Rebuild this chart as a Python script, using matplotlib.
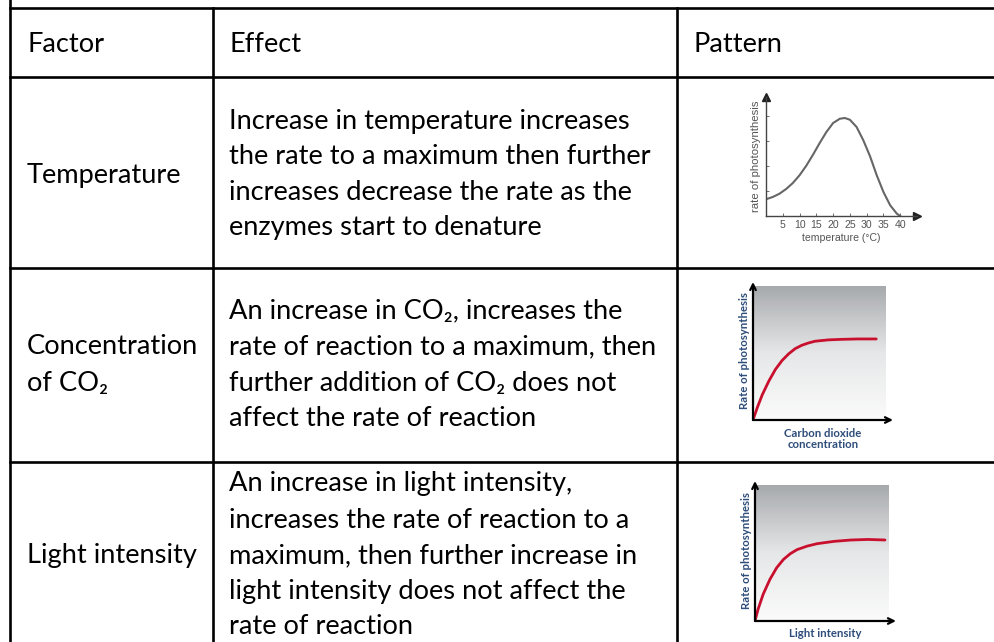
import numpy as np
import matplotlib.pyplot as plt
from matplotlib.colors import LinearSegmentedColormap

plt.rcParams['font.family'] = ['Lato', 'DejaVu Sans']

headers = ['Factor', 'Effect', 'Pattern']
factors = [['Temperature'], ['Concentration', 'of CO₂'], ['Light intensity']]
effects = [
    ['Increase in temperature increases',
     'the rate to a maximum then further',
     'increases decrease the rate as the',
     'enzymes start to denature'],
    ['An increase in CO₂, increases the',
     'rate of reaction to a maximum, then',
     'further addition of CO₂ does not',
     'affect the rate of reaction'],
    ['An increase in light intensity,',
     'increases the rate of reaction to a',
     'maximum, then further increase in',
     'light intensity does not affect the',
     'rate of reaction'],
]

# temperature curve
temp = [0, 2, 4, 6, 8, 10, 12, 14, 16, 18, 20, 22, 23.5, 25, 27, 29, 31, 33, 35, 37, 39, 40]
temp_rate = [0.67, 0.76, 0.89, 1.08, 1.32, 1.63, 2.01, 2.45, 2.92, 3.36, 3.72, 3.89,
             3.92, 3.85, 3.56, 3.03, 2.39, 1.63, 0.96, 0.43, 0.09, 0.0]
temp_ticks = [5, 10, 15, 20, 25, 30, 35, 40]

# CO2 curve
co2 = [0, 0.33, 0.7, 1.2, 1.7, 2.2, 2.7, 3.2, 3.7, 4.2, 4.7, 5.7, 6.7, 7.95, 9.33]
co2_rate = [0, 0.94, 1.88, 2.91, 3.78, 4.44, 4.94, 5.33, 5.58, 5.75, 5.88, 5.98, 6.02,
            6.05, 6.05]

# light curve
light = [0, 0.23, 0.61, 1.12, 1.63, 2.14, 2.65, 3.16, 3.92, 4.68, 5.95, 7.23, 8.5, 9.77]
light_rate = [0, 0.86, 1.96, 3.06, 3.92, 4.53, 4.95, 5.25, 5.51, 5.69, 5.86, 5.96, 6.0,
              5.96]

W, H = 995, 642
fig = plt.figure(figsize=(W / 100, H / 100), dpi=100)
ax = fig.add_axes([0, 0, 1, 1])
ax.set_xlim(0, W)
ax.set_ylim(H, 0)
ax.axis('off')

lw = 1.9
col_x = [10, 212.5, 677]
row_y = [8, 77, 268, 462]
ax.plot([10, 10], [0, H], color='black', lw=lw)
for x in col_x[1:]:
    ax.plot([x, x], [8, H], color='black', lw=lw)
for y in row_y:
    ax.plot([10, W], [y, y], color='black', lw=lw)

fs = 19.6
hx = [27, 229, 693]
for x, h in zip(hx, headers):
    ax.text(x, 45, h, fontsize=fs, va='center')

factor_y = [[175], [347, 383], [556]]
effect_y = [[121, 157, 192, 228], [311, 347, 383, 419], [484, 520, 556, 591, 627]]
for lines, ys in zip(factors, factor_y):
    for t, y in zip(lines, ys):
        ax.text(27, y, t, fontsize=fs, va='center')
for lines, ys in zip(effects, effect_y):
    for t, y in zip(lines, ys):
        ax.text(229, y, t, fontsize=fs, va='center')


def px_axes(x0, x1, ytop, ybot):
    return fig.add_axes([x0 / W, (H - ybot) / H, (x1 - x0) / W, (ybot - ytop) / H])


# temperature chart
gray = '#555555'
arial = ['Liberation Sans', 'DejaVu Sans']
a1 = px_axes(766, 917, 97, 216)
a1.plot(temp, temp_rate, color='#666666', lw=1.5)
a1.set_xlim(0, 45)
a1.set_ylim(0, 4.76)
for s in ['top', 'right']:
    a1.spines[s].set_visible(False)
for s in ['left', 'bottom']:
    a1.spines[s].set_color('#444444')
    a1.spines[s].set_linewidth(1.0)
a1.plot(1, 0, '>', color='#222222', ms=6, transform=a1.transAxes, clip_on=False)
a1.plot(0, 1, '^', color='#222222', ms=6, transform=a1.transAxes, clip_on=False)
a1.set_xticks(temp_ticks)
a1.set_xticklabels([str(t) for t in temp_ticks])
a1.set_yticks([1, 2, 3, 4])
a1.set_yticklabels([])
a1.tick_params(axis='x', direction='in', length=2, width=0.6, colors=gray,
               labelsize=7.6, pad=3)
a1.tick_params(axis='y', direction='in', length=2, width=0.6, colors=gray)
a1.set_xlabel('temperature (°C)', fontsize=7.6, color=gray, labelpad=2,
              family=arial)
a1.set_ylabel('rate of photosynthesis', fontsize=8.2, color=gray, labelpad=0,
              family=arial)
for lab in a1.get_xticklabels():
    lab.set_family(arial)

grad = np.linspace(0, 1, 256).reshape(-1, 1)
gcmap = LinearSegmentedColormap.from_list('g', ['#fbfbfb', '#e6e7e8', '#a7aaad'])
navy = '#2d4d7a'
red = '#c8102e'


def sketch(x0, x1, ytop, ybot, xs, ys, xlabel, pad):
    a = px_axes(x0, x1, ytop, ybot)
    a.imshow(grad, extent=(0.05, 10, 0, 10), aspect='auto', cmap=gcmap,
             origin='lower', zorder=0)
    a.plot(xs, ys, color=red, lw=2.0, solid_capstyle='round', zorder=2)
    a.set_xlim(0, 10.6)
    a.set_ylim(0, 10.3)
    for s in a.spines.values():
        s.set_visible(False)
    a.set_xticks([])
    a.set_yticks([])
    a.annotate('', xy=(10.6, 0), xytext=(0, 0), annotation_clip=False,
               arrowprops=dict(arrowstyle='->', color='black', lw=1.6,
                               shrinkA=0, shrinkB=0))
    a.annotate('', xy=(0, 10.3), xytext=(0, 0), annotation_clip=False,
               arrowprops=dict(arrowstyle='->', color='black', lw=1.6,
                               shrinkA=0, shrinkB=0))
    a.set_ylabel('Rate of photosynthesis', fontsize=8.2, color=navy,
                 fontweight='bold', labelpad=2)
    a.set_xlabel(xlabel, fontsize=8.2, color=navy, fontweight='bold',
                 labelpad=pad, linespacing=1.05)
    return a


sketch(753, 893, 282, 420, co2, co2_rate, 'Carbon dioxide\nconcentration', 5.5)
sketch(755, 896, 481, 621, light, light_rate, 'Light intensity', 5)

fig.savefig('out.png', dpi=100)
